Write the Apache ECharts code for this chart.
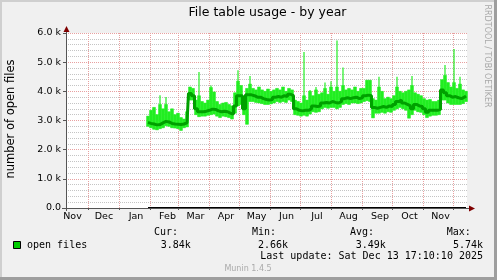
<!DOCTYPE html>
<html><head><meta charset="utf-8">
<script src="https://cdn.jsdelivr.net/npm/echarts@6/dist/echarts.min.js"></script>
<style>html,body{margin:0;padding:0;background:#F0F0F0}#c{width:497px;height:280px}</style>
</head><body><div id="c"></div>
<script>
// x values: days since 2024-11-09 (left edge of the year graph)
const days = [82,85,88,91,94,97,100,103,106,109,112,115,118,121,124,127,130,133,136,139,142,145,148,151,154,157,160,163,166,169,172,175,178,181,184,187,190,193,196,199,202,205,208,211,214,217,220,223,226,229,232,235,238,241,244,247,250,253,256,259,262,265,268,271,274,277,280,283,286,289,292,295,298,301,304,307,310,313,316,319,322,325,328,331,334,337,340,343,346,349,352,355,358,361,364,367,370,373,376,379,382,385,388,391,394,397,400];
const avgVals = [2930,2900,2880,2850,2860,2920,2970,2950,2900,2880,2870,2860,2880,2920,
  3930,3850,3400,3300,3300,3320,3350,3390,3380,3330,3300,3320,3300,3250,
  3220,3500,3850,3850,3400,3880,3880,3850,3800,3800,3750,3720,3700,3720,3800,3820,3800,3850,3820,3900,3850,3400,3350,3330,3350,3350,3400,
  3500,3480,3500,3600,3620,3600,3650,3620,3600,3650,3750,3780,3750,3780,3800,3750,3780,3850,3870,3850,3450,3420,3450,3480,3450,3500,3480,3550,
  3650,3700,3600,3550,3500,3400,3550,3500,3480,3400,3280,3350,3350,3350,3380,4050,3950,3850,3800,3820,3780,3750,3800,3840];
const minVals = [2800,2750,2700,2680,2720,2750,2820,2800,2750,2740,2720,2660,2750,2780,
  3700,3700,3200,3130,3150,3150,3180,3200,3220,3150,3100,3150,3130,3100,
  3050,3250,3500,3550,3200,2870,3650,3650,3620,3600,3580,3550,3550,3570,3600,3650,3620,3650,3620,3700,3650,3200,3180,3150,3180,3150,3220,
  3300,3280,3300,3400,3450,3420,3450,3450,3400,3450,3550,3580,3550,3600,3600,3580,3600,3650,3680,3650,3090,3250,3250,3280,3250,3300,3280,3350,
  3400,3450,3400,3350,3080,3200,3350,3300,3280,3200,3100,3150,3180,3180,3200,3700,3700,3600,3550,3550,3550,3550,3580,3650];
const maxVals = [3150,3350,3450,3200,3870,3400,3810,3300,3400,3200,3250,3100,3050,3300,
  4150,4100,3700,4660,3650,3600,3700,4200,3980,3650,3550,3600,3620,3550,
  3500,3950,4720,4200,3800,4100,4530,4100,4050,4150,4050,4000,4080,4000,4050,4100,4050,4150,4000,4100,4050,3700,3650,3600,5350,3700,4050,
  3850,4150,3900,3950,4300,3900,4350,4000,5740,4000,4820,4050,4100,4050,4150,4000,4100,4100,4380,4380,3750,3700,4500,4000,3750,3800,3750,3850,
  4500,4000,3950,4000,4050,4530,3950,3900,3850,3750,3700,3720,3650,3650,3700,4400,4900,4300,4150,5450,4100,4500,4050,4000];
// month starts (grid lines) and month label positions, in days since 2024-11-09
const monthStarts = [22,53,84,112,143,173,204,234,265,296,326,357,387];
const monthLabelDays = [6.5,38,70,101.5,129.5,160,190.5,220.5,251,282.5,314,343.5,374.5];
const monthLabels = ['Nov','Dec','Jan','Feb','Mar','Apr','May','Jun','Jul','Aug','Sep','Oct','Nov'];
const statHeads = ['Cur:','Min:','Avg:','Max:'];
const statVals = ['3.84k','2.66k','3.49k','5.74k'];
const seriesName = 'open files';

const chart = echarts.init(document.getElementById('c'), null, {renderer:'canvas'});
const pairs = a => days.map((d,i)=>[d,a[i]]);
const bandData = days.map((d,i)=>[d,minVals[i],maxVals[i]]);
const halfStep = (days[1]-days[0])/2;
const labelMap = {};
monthLabelDays.forEach((d,i)=>labelMap[d]=monthLabels[i]);
const band = '#22EE22';

const mono = '"DejaVu Sans Mono", monospace';
const sans = '"DejaVu Sans", sans-serif';
const statX = [154,252,350,446.7];
const valX = [160.7,258,355.7,453];
const graphics = [
  {type:'rect', shape:{x:0,y:0,width:497,height:2}, style:{fill:'#CFCFCF'}, silent:true},
  {type:'rect', shape:{x:0,y:0,width:2,height:280}, style:{fill:'#CFCFCF'}, silent:true},
  {type:'rect', shape:{x:494,y:0,width:3,height:280}, style:{fill:'#9E9E9E'}, silent:true},
  {type:'rect', shape:{x:0,y:277,width:497,height:3}, style:{fill:'#9E9E9E'}, silent:true},
  {type:'text', x:267.5, y:13, style:{text:'File table usage - by year', font:'12.5px '+sans, fill:'#000', align:'center', verticalAlign:'middle'}},
  {type:'text', x:11, y:119, rotation:Math.PI/2, style:{text:'number of open files', font:'11.5px '+sans, fill:'#000', align:'center', verticalAlign:'middle'}},
  {type:'text', x:487, y:56, rotation:-Math.PI/2, style:{text:'RRDTOOL / TOBI OETIKER', font:'8px '+sans, fill:'#A8A8A8', align:'center', verticalAlign:'middle'}},
  {type:'line', shape:{x1:66.5,y1:31,x2:66.5,y2:211}, style:{stroke:'#555', lineWidth:1}, z:5},
  {type:'line', shape:{x1:62,y1:208.5,x2:470,y2:208.5}, style:{stroke:'#555', lineWidth:1}, z:5},
  {type:'polygon', shape:{points:[[66.5,26],[63.5,32],[69.5,32]]}, style:{fill:'#7F0000'}, z:6},
  {type:'polygon', shape:{points:[[475,208.5],[469,205.5],[469,211.5]]}, style:{fill:'#7F0000'}, z:6},
  {type:'rect', shape:{x:13.5,y:241.5,width:7,height:7}, style:{fill:'#00CC00', stroke:'#000', lineWidth:1}},
  {type:'text', x:27, y:245, style:{text:seriesName, font:'10px '+mono, fill:'#000', verticalAlign:'middle'}},
  {type:'text', x:483, y:256.7, style:{text:'Last update: Sat Dec 13 17:10:10 2025', font:'10px '+mono, fill:'#000', align:'right', verticalAlign:'middle'}},
  {type:'text', x:248, y:269, style:{text:'Munin 1.4.5', font:'8px '+sans, fill:'#AAAAAA', align:'center', verticalAlign:'middle'}}
];
statHeads.forEach((t,i)=>graphics.push({type:'text', x:statX[i], y:232, style:{text:t, font:'10px '+mono, fill:'#000', verticalAlign:'middle'}}));
statVals.forEach((t,i)=>graphics.push({type:'text', x:valX[i], y:245, style:{text:t, font:'10px '+mono, fill:'#000', verticalAlign:'middle'}}));

chart.setOption({
  backgroundColor:'#F0F0F0',
  animation:false,
  textStyle:{fontFamily:sans},
  grid:{left:66, top:33, width:401, height:175, backgroundColor:'#FFFFFF', show:true, borderWidth:0},
  xAxis:{
    type:'value', min:0, max:401,
    axisLine:{show:false},
    axisTick:{show:true, length:2, customValues:monthStarts, lineStyle:{color:'#555'}},
    axisLabel:{customValues:monthLabelDays, formatter:v=>labelMap[v]||'', color:'#000', fontSize:9.5, margin:4, fontFamily:sans},
    splitLine:{show:true, lineStyle:{color:'#E8A0A0', type:[1,1], width:1}}
  },
  yAxis:{
    type:'value', min:0, max:6000, interval:1000,
    axisLine:{show:false},
    axisTick:{show:true, length:3, lineStyle:{color:'#555'}},
    axisLabel:{formatter:v=>v===0?'0.0':(v/1000).toFixed(1)+' k', color:'#000', fontSize:9.5, margin:5, fontFamily:sans},
    splitLine:{show:true, lineStyle:{color:'#E8A0A0', type:[1,1], width:1}},
    minorTick:{show:false, splitNumber:5},
    minorSplitLine:{show:true, lineStyle:{color:'#C4C4C4', type:[1,1], width:1}}
  },
  series:[
    {type:'custom', name:'band', data:bandData, encode:{x:0, y:[1,2]}, silent:true, z:2,
      renderItem:(params, api)=>{
        const i = params.dataIndex;
        const d = api.value(0), lo = api.value(1), hi = api.value(2);
        const nb = Math.max(i>0?maxVals[i-1]:hi, i<maxVals.length-1?maxVals[i+1]:hi);
        const bodyTop = Math.min(hi, nb + 150);
        const p1 = api.coord([d-halfStep, bodyTop]);
        const p2 = api.coord([d+halfStep, lo]);
        const s1 = api.coord([d-0.6, hi]);
        const s2 = api.coord([d+0.6, lo]);
        return {type:'group', children:[
          {type:'rect', shape:{x:p1[0], y:p1[1], width:p2[0]-p1[0], height:p2[1]-p1[1]}, style:{fill:band, stroke:band, lineWidth:0.5}},
          {type:'rect', shape:{x:s1[0], y:s1[1], width:s2[0]-s1[0], height:s2[1]-s1[1]}, style:{fill:band}}
        ]};
      }},
    {type:'line', name:seriesName, data:pairs(avgVals), step:'middle', symbol:'none', lineStyle:{width:3, color:'#00A000'}, silent:true, z:3},
    {type:'line', name:'base', data:[[days[0],0],[days[days.length-1],0]], symbol:'none', lineStyle:{width:2, color:'#000'}, silent:true, z:4}
  ],
  graphic:graphics
});
</script></body></html>
